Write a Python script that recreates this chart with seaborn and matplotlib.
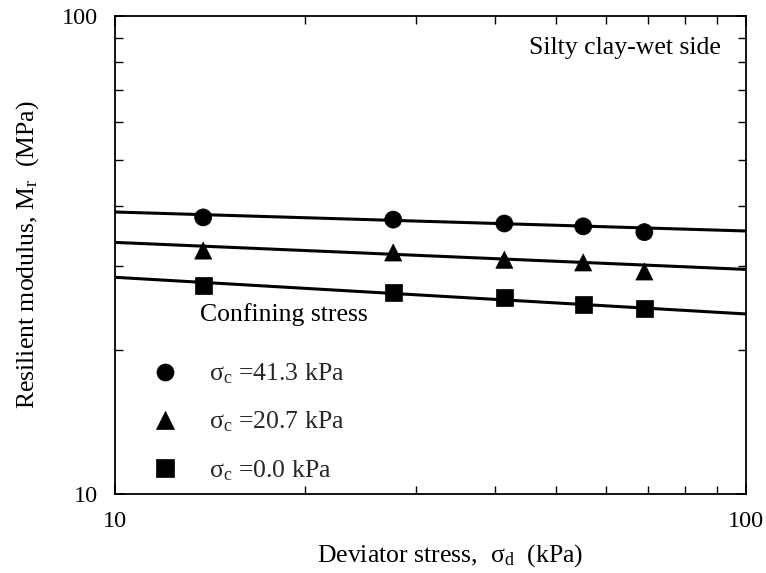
import numpy as np
import pandas as pd
import matplotlib
matplotlib.use("Agg")
import matplotlib.pyplot as plt
import seaborn as sns
from matplotlib.ticker import LogLocator, NullFormatter, FixedLocator, FixedFormatter

# Measured resilient modulus at each deviator stress
deviator_stress = [13.8, 27.6, 41.4, 55.2, 69.0]          # kPa
mr_41_3 = [37.9, 37.5, 36.8, 36.3, 35.3]                   # MPa, sigma_c = 41.3 kPa
mr_20_7 = [32.3, 32.0, 30.9, 30.5, 29.2]                   # MPa, sigma_c = 20.7 kPa
mr_0_0 = [27.3, 26.4, 25.8, 24.9, 24.4]                    # MPa, sigma_c = 0.0 kPa

# Power-law trend lines, values at sigma_d = 10 and 100 kPa
fit_stress = [10.0, 100.0]
fit_41_3 = [38.9, 35.5]
fit_20_7 = [33.6, 29.5]
fit_0_0 = [28.4, 23.8]

labels = ["σ$_\\mathrm{c}$ =41.3 kPa", "σ$_\\mathrm{c}$ =20.7 kPa", "σ$_\\mathrm{c}$ =0.0 kPa"]

sns.set_theme(style="white")
plt.rcParams["font.family"] = ["Liberation Serif", "DejaVu Serif"]
plt.rcParams["mathtext.fontset"] = "custom"
plt.rcParams["mathtext.rm"] = "Liberation Serif"
plt.rcParams["mathtext.it"] = "Liberation Serif:italic"

FS = 18.5

points = pd.DataFrame({
    "sd": deviator_stress * 3,
    "mr": mr_41_3 + mr_20_7 + mr_0_0,
    "case": [labels[0]] * 5 + [labels[1]] * 5 + [labels[2]] * 5,
})
lines = pd.DataFrame({
    "sd": fit_stress * 3,
    "mr": fit_41_3 + fit_20_7 + fit_0_0,
    "case": [labels[0]] * 2 + [labels[1]] * 2 + [labels[2]] * 2,
})

fig = plt.figure(figsize=(7.66, 5.73), dpi=100)
ax = fig.add_axes([0.150, 0.138, 0.824, 0.834])

sns.lineplot(data=lines, x="sd", y="mr", units="case", estimator=None,
             color="black", lw=2.2, ax=ax, legend=False)
sns.scatterplot(data=points, x="sd", y="mr", style="case", hue="case",
                palette=["black"] * 3, markers=["o", "^", "s"],
                s=150, edgecolor="black", linewidth=0.5, ax=ax, zorder=3)

ax.set_xscale("log")
ax.set_yscale("log")
ax.set_xlim(10, 100)
ax.set_ylim(10, 100)

for axis in (ax.xaxis, ax.yaxis):
    axis.set_major_locator(FixedLocator([10, 100]))
    axis.set_major_formatter(FixedFormatter(["10", "100"]))
    axis.set_minor_locator(LogLocator(base=10, subs=np.arange(2, 10)))
    axis.set_minor_formatter(NullFormatter())

ax.tick_params(which="both", direction="in", top=True, right=True,
               bottom=True, left=True, colors="black", labelsize=17.5)
ax.tick_params(which="major", length=7, width=1.2, pad=12)
ax.tick_params(which="minor", length=6, width=1.0)
for sp in ax.spines.values():
    sp.set_color("black")
    sp.set_linewidth(1.3)

ax.set_xlabel("Deviator stress,  σ$_\\mathrm{d}$  (kPa)", fontsize=FS, color="black")
ax.set_ylabel("Resilient modulus, M$_\\mathrm{r}$  (MPa)", fontsize=FS, color="black")
ax.xaxis.set_label_coords(0.531, -0.10)
ax.yaxis.set_label_coords(-0.117, 0.5)

ax.text(0.960, 0.933, "Silty clay-wet side", transform=ax.transAxes,
        ha="right", va="center", fontsize=FS, color="black")
ax.text(0.1347, 0.375, "Confining stress", transform=ax.transAxes,
        ha="left", va="center", fontsize=FS, color="black")

handles, labs = ax.get_legend_handles_labels()
leg = ax.legend(handles, labs, loc="upper left", bbox_to_anchor=(0.0507, 0.277),
                frameon=False, fontsize=FS, handlelength=1.4, handletextpad=1.0,
                labelspacing=0.92, borderpad=0, borderaxespad=0)

fig.savefig("out.png", dpi=100)
